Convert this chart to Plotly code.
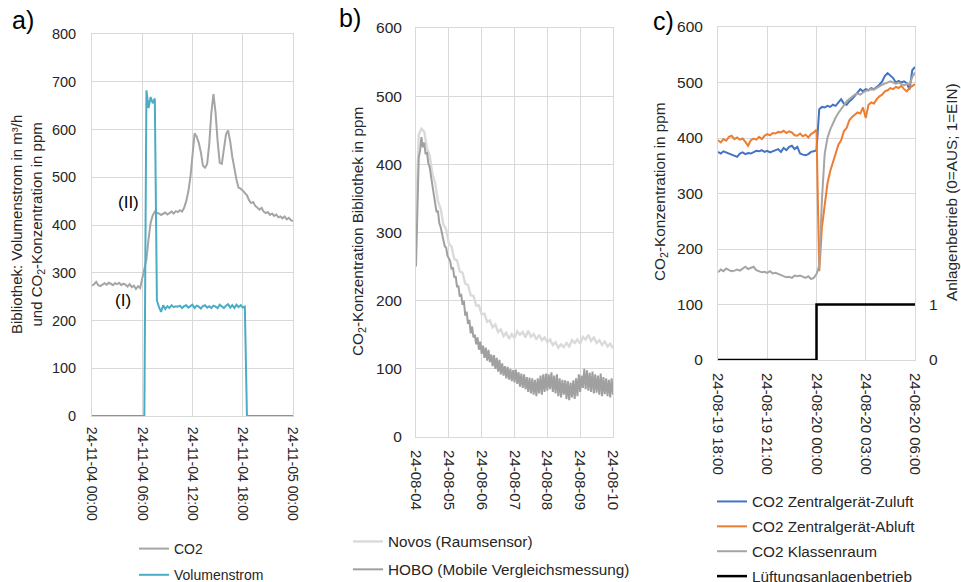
import pandas as pd
import plotly.graph_objects as go

# ---------------- data ----------------
# Panel a: 2024-11-04, 15-min steps (97 values)
times_a = pd.date_range("2024-11-04 00:00", "2024-11-05 00:00", freq="15min")
co2_a = [273, 276, 281, 274, 272, 276, 278, 275, 279, 277, 274, 278,
         276, 279, 274, 277, 275, 271, 276, 270, 273, 266, 272, 268,
         289, 305, 328, 370, 405, 420, 428, 425, 424, 421, 424, 426,
         422, 425, 428, 424, 429, 427, 431, 428, 436, 450, 470, 500,
         545, 592, 585, 572, 552, 524, 520, 528, 570, 635, 674, 636,
         575, 530, 528, 560, 590, 598, 575, 543, 515, 495, 478, 476,
         472, 466, 462, 452, 446, 448, 440, 436, 432, 436, 428, 425,
         427, 421, 424, 419, 422, 416, 418, 414, 418, 412, 415, 410,
         408]
flow_a = [0] * 26 + [682, 645, 668, 655, 665,
          242, 228, 218, 232, 224, 230, 226, 232, 228, 230,
          229, 231, 226, 230, 232, 227, 230, 233, 226, 231,
          229, 225, 230, 232, 227, 230, 226, 231, 229, 226,
          233, 229, 226, 231, 234, 227, 232, 226, 233, 228,
          232, 227, 229] + [0] * 23

# Panel b: 2024-08-04 .. 2024-08-10
times_novos = pd.date_range("2024-08-04 00:00", "2024-08-10 00:00", freq="2h")   # 73 values
novos_b = [320, 444, 452, 448, 424, 413, 386, 373, 346, 335, 312, 305,
           284, 279, 261, 259, 243, 241, 225, 223, 208, 207, 193, 193,
           180, 181, 169, 171, 161, 165, 154, 158, 148, 153, 144, 151,
           145, 155, 150, 154, 146, 156, 147, 151, 143, 150, 142, 146,
           139, 143, 135, 139, 131, 136, 132, 138, 133, 142, 138, 143,
           137, 147, 143, 150, 141, 146, 138, 142, 135, 140, 133, 137,
           130]
times_hobo = pd.date_range("2024-08-04 00:00", "2024-08-10 00:00", freq="1h")    # 145 values
hobo_b = [250, 360, 410, 420, 440, 425, 432, 415, 418, 402, 396, 382,
          368, 360, 342, 330, 332, 314, 308, 298, 292, 280, 278, 266,
          262, 258, 246, 249, 234, 236, 220, 222, 206, 210, 194, 200,
          178, 184, 166, 172, 152, 162, 146, 150, 136, 146, 128, 140,
          122, 134, 116, 131, 112, 128, 110, 121, 104, 120, 100, 116,
          96, 113, 92, 108, 90, 104, 86, 103, 84, 100, 82, 98,
          80, 99, 78, 95, 74, 93, 72, 92, 70, 88, 66, 87,
          64, 86, 62, 84, 60, 86, 64, 90, 62, 92, 66, 93,
          68, 92, 70, 95, 66, 90, 64, 92, 60, 86, 58, 84,
          62, 83, 56, 82, 54, 80, 58, 83, 56, 86, 60, 92,
          66, 90, 72, 100, 70, 98, 68, 94, 66, 96, 64, 92,
          65, 90, 62, 93, 60, 88, 63, 86, 60, 84, 58, 86,
          62]

# Panel c: 2024-08-19 18:00 .. 2024-08-20 06:00, 10-min steps (73 values)
times_c = pd.date_range("2024-08-19 18:00", "2024-08-20 06:00", freq="10min")
zuluft_c = [375, 372, 376, 374, 373, 370, 368, 366, 372, 374, 371, 373,
            372, 375, 377, 376, 378, 375, 377, 374, 376, 378, 380, 375,
            382, 378, 384, 386, 380, 384, 372, 370, 369, 371, 375, 376,
            378, 452, 456, 455, 458, 456, 460, 458, 465, 470, 462, 460,
            466, 470, 476, 482, 488, 484, 488, 486, 490, 488, 492, 496,
            502, 512, 517, 513, 508, 500, 503, 500, 502, 499, 487, 522,
            528]
abluft_c = [396, 392, 398, 395, 402, 404, 398, 401, 397, 399, 393, 386,
            396, 399, 397, 402, 398, 404, 407, 405, 409, 408, 411, 410,
            413, 409, 412, 410, 405, 404, 408, 403, 406, 401, 407, 410,
            415, 160, 240, 285, 318, 340, 355, 372, 388, 396, 412, 418,
            432, 438, 442, 446, 444, 455, 436, 460, 464, 462, 470, 475,
            478, 484, 486, 490, 488, 492, 490, 494, 488, 484, 490, 494,
            497]
klasse_c = [158, 163, 160, 165, 162, 160, 161, 163, 161, 165, 168, 164,
            166, 168, 162, 160, 158, 159, 157, 160, 156, 157, 155, 153,
            151, 149, 150, 148, 152, 151, 152, 150, 148, 151, 146, 148,
            155, 170, 290, 372, 400, 415, 427, 437, 445, 452, 460, 466,
            470, 474, 478, 480, 478, 482, 485, 486, 488, 487, 490, 494,
            496, 498, 500, 502, 500, 498, 500, 497, 495, 498, 496, 510,
            518]
betrieb_times = ["2024-08-19 18:00", "2024-08-20 00:00", "2024-08-20 06:00"]
betrieb_vals = [0, 1, 1]

# ---------------- styling ----------------
W, H = 961, 582
FAM = "Liberation Sans, Arial, sans-serif"
TXTCOL = "#262626"
GRID = "#d9d9d9"


def tf(size):
    return dict(family=FAM, size=size, color=TXTCOL)


def px_x(p):
    return p / W


def px_y(p):
    return 1 - p / H


fig = go.Figure()

# Panel a
fig.add_trace(go.Scatter(x=times_a, y=co2_a, mode="lines", name="CO2",
                         line=dict(color="#a5a5a5", width=2), xaxis="x", yaxis="y",
                         legend="legend", legendgroup="a1"))
fig.add_trace(go.Scatter(x=times_a, y=flow_a, mode="lines", name="Volumenstrom",
                         line=dict(color="#4bacc6", width=2), xaxis="x", yaxis="y",
                         legend="legend", legendgroup="a2"))
# Panel b
fig.add_trace(go.Scatter(x=times_novos, y=novos_b, mode="lines", name="Novos (Raumsensor)",
                         line=dict(color="#dadada", width=2.4), xaxis="x2", yaxis="y2",
                         legend="legend2", legendgroup="b1"))
fig.add_trace(go.Scatter(x=times_hobo, y=hobo_b, mode="lines", name="HOBO (Mobile Vergleichsmessung)",
                         line=dict(color="#a0a0a0", width=2), xaxis="x2", yaxis="y2",
                         legend="legend2", legendgroup="b2"))
# Panel c
fig.add_trace(go.Scatter(x=times_c, y=zuluft_c, mode="lines", name="CO2 Zentralgerät-Zuluft",
                         line=dict(color="#4472c4", width=2), xaxis="x3", yaxis="y3",
                         legend="legend3", legendgroup="c1"))
fig.add_trace(go.Scatter(x=times_c, y=abluft_c, mode="lines", name="CO2 Zentralgerät-Abluft",
                         line=dict(color="#ed7d31", width=2), xaxis="x3", yaxis="y3",
                         legend="legend3", legendgroup="c2"))
fig.add_trace(go.Scatter(x=times_c, y=klasse_c, mode="lines", name="CO2 Klassenraum",
                         line=dict(color="#a5a5a5", width=2), xaxis="x3", yaxis="y3",
                         legend="legend3", legendgroup="c3"))
fig.add_trace(go.Scatter(x=betrieb_times, y=betrieb_vals, mode="lines", name="Lüftungsanlagenbetrieb",
                         line=dict(color="#000000", width=2.5, shape="hv"), xaxis="x3", yaxis="y4",
                         legend="legend3", legendgroup="c4"))

xcommon = dict(showgrid=True, gridcolor=GRID, gridwidth=1, showline=True, linecolor=GRID,
               mirror=True, tickangle=90, ticks="", zeroline=False, type="date",
               automargin=False, fixedrange=True)
ycommon = dict(showgrid=True, gridcolor=GRID, gridwidth=1, showline=True, linecolor=GRID,
               mirror=True, ticks="", zeroline=False, dtick=100, automargin=False,
               fixedrange=True)

fig.update_layout(
    template="none",
    width=W, height=H, margin=dict(l=0, r=0, t=0, b=0, autoexpand=False),
    paper_bgcolor="white", plot_bgcolor="white",
    xaxis=dict(xcommon, domain=[px_x(92), px_x(293)], anchor="y",
               range=["2024-11-04 00:00", "2024-11-05 00:00"], dtick=6 * 3600 * 1000,
               tick0="2024-11-04 00:00", tickformat="%y-%m-%d %H:%M",
               tickfont=tf(14), ticklabelstandoff=7),
    yaxis=dict(ycommon, domain=[px_y(416), px_y(34)], anchor="x", range=[0, 800],
               tickfont=tf(14.5), ticklabelstandoff=12),
    xaxis2=dict(xcommon, domain=[px_x(416), px_x(613)], anchor="y2",
                range=["2024-08-04", "2024-08-10"], dtick=86400000,
                tick0="2024-08-04", tickformat="%y-%m-%d",
                tickfont=tf(15), ticklabelstandoff=9),
    yaxis2=dict(ycommon, domain=[px_y(437), px_y(28)], anchor="x2", range=[0, 600],
                tickfont=tf(15.5), ticklabelstandoff=10),
    xaxis3=dict(xcommon, domain=[px_x(718), px_x(915)], anchor="y3",
                range=["2024-08-19 18:00", "2024-08-20 06:00"], dtick=3 * 3600 * 1000,
                tick0="2024-08-19 18:00", tickformat="%y-%m-%d %H:%M",
                tickfont=tf(15), ticklabelstandoff=9),
    yaxis3=dict(ycommon, domain=[px_y(360), px_y(27)], anchor="x3", range=[0, 600],
                tickfont=tf(15.5), ticklabelstandoff=11),
    yaxis4=dict(overlaying="y3", side="right", anchor="x3", range=[0, 6], tickvals=[0, 1],
                showgrid=False, zeroline=False, showline=False, tickfont=tf(15.5),
                ticks="", ticklabelstandoff=13, automargin=False, fixedrange=True),
    showlegend=True,
    legend=dict(x=px_x(134), y=px_y(533), xanchor="left", yanchor="top",
                font=tf(14), bgcolor="rgba(0,0,0,0)",
                traceorder="grouped", tracegroupgap=5),
    legend2=dict(x=px_x(348), y=px_y(525), xanchor="left", yanchor="top",
                 font=tf(15.3), bgcolor="rgba(0,0,0,0)",
                 traceorder="grouped", tracegroupgap=5),
    legend3=dict(x=px_x(712), y=px_y(485), xanchor="left", yanchor="top",
                 font=tf(15.3), bgcolor="rgba(0,0,0,0)",
                 traceorder="grouped", tracegroupgap=2),
)

ann = []
# axis titles
ann.append(dict(text="Bibliothek: Volumenstrom in m³/h<br>und CO<sub>2</sub>-Konzentration in ppm",
                x=px_x(28), y=px_y(225), textangle=-90, font=tf(15)))
ann.append(dict(text="CO<sub>2</sub>-Konzentration Bibliothek in ppm", x=px_x(358), y=px_y(232),
                textangle=-90, font=tf(15.3)))
ann.append(dict(text="CO<sub>2</sub>-Konzentration in ppm", x=px_x(661), y=px_y(192),
                textangle=-90, font=tf(15.3)))
ann.append(dict(text="Anlagenbetrieb (0=AUS; 1=EIN)", x=px_x(952), y=px_y(192),
                textangle=-90, font=tf(15.3)))
for a in ann:
    a.update(xref="paper", yref="paper", showarrow=False, xanchor="center", yanchor="middle")
# panel letters
for t, xp, yp in [("a)", 23, 20), ("b)", 350, 18), ("c)", 663, 21)]:
    ann.append(dict(text=t, x=px_x(xp), y=px_y(yp), xref="paper", yref="paper", showarrow=False,
                    xanchor="center", yanchor="middle", font=dict(family=FAM, size=25, color="#000")))
# labels inside panel a
ann.append(dict(text="(II)", x="2024-11-04 04:19", y=448, xref="x", yref="y", showarrow=False,
                font=dict(family=FAM, size=17, color="#000")))
ann.append(dict(text="(I)", x="2024-11-04 03:43", y=241, xref="x", yref="y", showarrow=False,
                font=dict(family=FAM, size=17, color="#000")))
fig.update_layout(annotations=ann)

fig.write_html(
    "out.html",
    config={"displayModeBar": False},
    post_script="document.body.style.margin='0';document.body.style.overflow='hidden';",
)
